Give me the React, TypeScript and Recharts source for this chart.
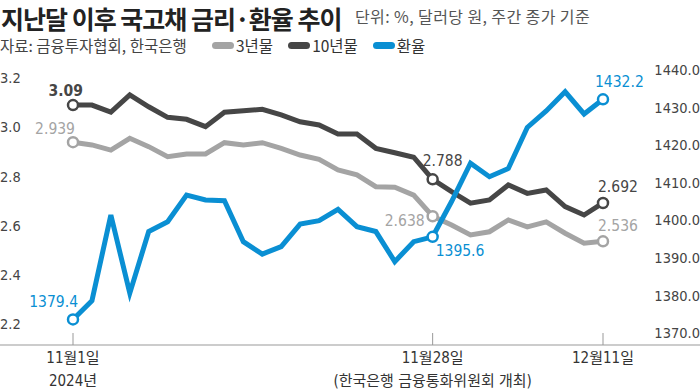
import React from 'react';
import { LineChart, Line, XAxis, YAxis, Legend } from 'recharts';

// 2024.11.1 ~ 12.11 영업일, 주간 종가
const dates = [
  '11/1', '11/4', '11/5', '11/6', '11/7', '11/8', '11/11', '11/12', '11/13', '11/14',
  '11/15', '11/18', '11/19', '11/20', '11/21', '11/22', '11/25', '11/26', '11/27', '11/28',
  '11/29', '12/2', '12/3', '12/4', '12/5', '12/6', '12/9', '12/10', '12/11',
];
const yr3 = [
  2.939, 2.928, 2.907, 2.955, 2.921, 2.88, 2.891, 2.891, 2.937, 2.928,
  2.937, 2.914, 2.887, 2.869, 2.826, 2.806, 2.758, 2.756, 2.724, 2.638,
  2.602, 2.562, 2.575, 2.623, 2.595, 2.615, 2.569, 2.528, 2.536,
];
const yr10 = [
  3.09, 3.09, 3.061, 3.131, 3.083, 3.04, 3.032, 3.002, 3.061, 3.067,
  3.073, 3.05, 3.022, 3.009, 2.972, 2.972, 2.914, 2.896, 2.878, 2.788,
  2.738, 2.691, 2.704, 2.765, 2.731, 2.745, 2.677, 2.643, 2.692,
];
const fx = [
  1373.6, 1378.6, 1401.4, 1380.6, 1397.0, 1399.6, 1406.7, 1405.4, 1405.2, 1394.3,
  1391.0, 1393.0, 1399.0, 1399.9, 1402.9, 1398.3, 1397.0, 1389.0, 1394.3, 1395.6,
  1405.0, 1415.2, 1411.6, 1413.8, 1424.7, 1429.1, 1434.2, 1428.3, 1432.2,
];

const markIdx = [0, 19, 28];
const yr3Marks = ['2.939', '2.638', '2.536'];
const yr10Marks = ['3.09', '2.788', '2.692'];
const fxMarks = ['1379.4', '1395.6', '1432.2'];

const leftTicks = [2.2, 2.4, 2.6, 2.8, 3.0, 3.2];
const rightTicks = [1370, 1380, 1390, 1400, 1410, 1420, 1430, 1440];
const xTicks = ['11/1', '11/28', '12/11'];
const xTickLabels: Record<string, string[]> = {
  '11/1': ['11월1일', '2024년'],
  '11/28': ['11월28일', '(한국은행 금융통화위원회 개최)'],
  '12/11': ['12월11일', ''],
};
const legendOrder = ['3년물', '10년물', '환율'];

const data = dates.map((d, i) => ({ date: d, yr3: yr3[i], yr10: yr10[i], fx: fx[i] }));

const GRAY = '#a4a4a4';
const DARK = '#464646';
const BLUE = '#0a8fd3';
const FONT = "'Liberation Sans Narrow', 'DejaVu Sans Condensed', 'Noto Sans CJK KR', sans-serif";
const KFONT = "'Noto Sans CJK KR', sans-serif";

// label offsets [dx, dy, anchor] per marked point
const yr3Pos: [number, number, string][] = [[2, -13, 'end'], [-8, 5, 'end'], [-5, -15, 'start']];
const yr10Pos: [number, number, string][] = [[10, -14, 'end'], [-10, -18, 'start'], [-5, -16, 'start']];
const fxPos: [number, number, string][] = [[5, -17, 'end'], [3, 14, 'start'], [-8, -17, 'start']];

const makeDot = (color: string) => (p: any) => {
  if (!markIdx.includes(p.index)) return <g key={`d${p.index}`} />;
  return <circle key={`d${p.index}`} cx={p.cx} cy={p.cy} r={5} fill="#fff" stroke={color} strokeWidth={2.5} />;
};

const makeLabel = (marks: string[], pos: [number, number, string][], color: string, boldFirst = false) => (p: any) => {
  const k = markIdx.indexOf(p.index);
  if (k < 0) return <g key={`l${p.index}`} />;
  const [dx, dy, anchor] = pos[k];
  return (
    <text key={`l${p.index}`} x={p.x + dx} y={p.y + dy} textAnchor={anchor as any} dominantBaseline="central"
      fill={color} fontSize={15.5} fontFamily={FONT} fontWeight={boldFirst && k === 0 ? 700 : 400}>
      {marks[k]}
    </text>
  );
};

const XTick = (props: any) => {
  const { x, y, payload } = props;
  const lines = xTickLabels[payload.value] || ['', ''];
  return (
    <g>
      <line x1={x} x2={x} y1={y - 12} y2={y} stroke="#999" strokeWidth={1} />
      <text x={x} y={y + 13} textAnchor="middle" dominantBaseline="central" fill="#333" fontSize={15} fontFamily={FONT}>{lines[0]}</text>
      <text x={x} y={y + 36} textAnchor="middle" dominantBaseline="central" fill="#333" fontSize={15} fontFamily={FONT}>{lines[1]}</text>
    </g>
  );
};

const LegendContent = (props: any) => {
  const items = [...(props.payload || [])].sort((a: any, b: any) => legendOrder.indexOf(a.value) - legendOrder.indexOf(b.value));
  return (
    <div style={{ display: 'flex', alignItems: 'center', fontFamily: KFONT, fontSize: 15.5, color: '#333', whiteSpace: 'nowrap' }}>
      {items.map((e: any) => (
        <div key={e.value} style={{ display: 'flex', alignItems: 'center', marginRight: 15 }}>
          <span style={{ display: 'inline-block', width: 22, height: 7, borderRadius: 4, background: e.color, marginRight: 2 }} />
          <span>{e.value}</span>
        </div>
      ))}
    </div>
  );
};

export default function App() {
  return (
    <div style={{ position: 'absolute', left: 0, top: 0, width: 700, height: 389, background: '#fff', overflow: 'hidden' }}>
      <div style={{ position: 'absolute', left: 1, top: 0, fontFamily: KFONT, fontWeight: 700, fontSize: 25, letterSpacing: -1, color: '#222', whiteSpace: 'nowrap' }}>
        지난달 이후 국고채 금리·환율 추이
      </div>
      <div style={{ position: 'absolute', left: 355, top: 5, lineHeight: '22px', fontFamily: KFONT, fontSize: 16, letterSpacing: 0.4, color: '#555', whiteSpace: 'nowrap' }}>
        단위: %, 달러당 원, 주간 종가 기준
      </div>
      <div style={{ position: 'absolute', left: 0, top: 34, lineHeight: '22px', fontFamily: KFONT, fontSize: 15.5, color: '#444', whiteSpace: 'nowrap' }}>
        자료: 금융투자협회, 한국은행
      </div>
      <LineChart width={700} height={389} data={data} margin={{ top: 70, right: 0, bottom: 0, left: 0 }}>
        <XAxis dataKey="date" ticks={xTicks} interval={0} padding={{ left: 73, right: 97 }} height={44}
          axisLine={{ stroke: '#999' }} tickLine={false} tickSize={0} tickMargin={0} tick={<XTick />} />
        <YAxis yAxisId="l" orientation="left" mirror domain={[2.1146, 3.2325]} ticks={leftTicks} allowDataOverflow
          axisLine={false} tickLine={false} tickSize={0} tickMargin={0}
          tickFormatter={(v: number) => v.toFixed(1)}
          tick={{ fill: '#444', fontSize: 14.5, fontFamily: FONT }} />
        <YAxis yAxisId="r" orientation="right" mirror domain={[1366.8, 1440]} ticks={rightTicks} allowDataOverflow
          axisLine={false} tickLine={false} tickSize={0} tickMargin={0}
          tickFormatter={(v: number) => v.toFixed(1)}
          tick={{ fill: '#444', fontSize: 14.5, fontFamily: FONT }} />
        <Legend verticalAlign="middle" align="center" layout="horizontal" content={<LegendContent />}
          wrapperStyle={{ top: 34, left: 212, width: 'auto' }} />
        <Line yAxisId="l" dataKey="yr3" name="3년물" stroke={GRAY} strokeWidth={5} type="linear"
          dot={makeDot(GRAY)} activeDot={false} label={makeLabel(yr3Marks, yr3Pos, GRAY)} isAnimationActive={false} />
        <Line yAxisId="l" dataKey="yr10" name="10년물" stroke={DARK} strokeWidth={5} type="linear"
          dot={makeDot(DARK)} activeDot={false} label={makeLabel(yr10Marks, yr10Pos, DARK, true)} isAnimationActive={false} />
        <Line yAxisId="r" dataKey="fx" name="환율" stroke={BLUE} strokeWidth={5} type="linear"
          dot={makeDot(BLUE)} activeDot={false} label={makeLabel(fxMarks, fxPos, BLUE)} isAnimationActive={false} />
      </LineChart>
    </div>
  );
}
